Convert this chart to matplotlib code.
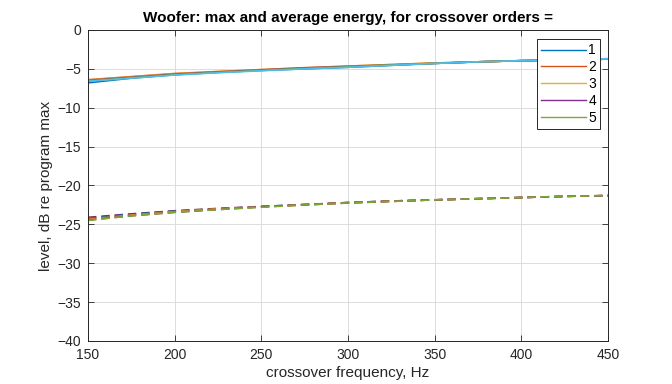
import matplotlib
matplotlib.use("Agg")
import matplotlib.pyplot as plt

# crossover frequencies, Hz
freq = [150, 175, 200, 225, 250, 275, 300, 325, 350, 375, 400, 425, 450]

# max energy per crossover order (solid)
max_1 = [-6.8, -6.2, -5.75, -5.45, -5.2, -5.0, -4.8, -4.55, -4.3, -4.1, -3.95, -3.85, -3.7]
max_2 = [-6.4, -6.0, -5.6, -5.35, -5.1, -4.85, -4.65, -4.45, -4.25, -4.1, -3.95, -3.85, -3.75]
max_3 = [-6.45, -6.05, -5.65, -5.35, -5.1, -4.9, -4.65, -4.45, -4.25, -4.1, -3.95, -3.85, -3.75]
max_4 = [-6.5, -6.1, -5.7, -5.4, -5.15, -4.9, -4.7, -4.5, -4.3, -4.1, -3.95, -3.85, -3.75]
max_5 = [-6.55, -6.15, -5.75, -5.45, -5.2, -4.95, -4.75, -4.5, -4.3, -4.1, -3.95, -3.85, -3.75]
max_6 = [-6.6, -6.2, -5.8, -5.5, -5.25, -5.0, -4.8, -4.55, -4.3, -4.1, -3.95, -3.8, -3.7]

# average energy per crossover order (dashed)
avg_1 = [-24.1, -23.65, -23.25, -22.95, -22.7, -22.45, -22.2, -22.0, -21.85, -21.7, -21.55, -21.4, -21.3]
avg_2 = [-24.2, -23.7, -23.3, -23.0, -22.7, -22.45, -22.2, -22.0, -21.85, -21.7, -21.55, -21.4, -21.3]
avg_3 = [-24.3, -23.8, -23.35, -23.0, -22.75, -22.45, -22.2, -22.0, -21.85, -21.7, -21.55, -21.4, -21.3]
avg_4 = [-24.4, -23.85, -23.4, -23.05, -22.75, -22.5, -22.25, -22.05, -21.85, -21.7, -21.55, -21.4, -21.3]
avg_5 = [-24.45, -23.9, -23.45, -23.1, -22.75, -22.5, -22.25, -22.05, -21.85, -21.7, -21.55, -21.4, -21.3]
avg_6 = [-24.5, -23.9, -23.45, -23.1, -22.8, -22.5, -22.25, -22.05, -21.85, -21.7, -21.55, -21.4, -21.3]

order_labels = ["1", "2", "3", "4", "5"]

MATLAB = ["#0072BD", "#D95319", "#EDB120", "#7E2F8E", "#77AC30", "#4DBEEE", "#A2142F"]

plt.rcParams["font.family"] = ["Liberation Sans", "DejaVu Sans"]

fig = plt.figure(figsize=(6.72, 3.84), dpi=100)
ax = fig.add_axes([0.131, 0.112, 0.774, 0.810])

solid = [max_1, max_2, max_3, max_4, max_5, max_6]
dashed = [avg_1, avg_2, avg_3, avg_4, avg_5, avg_6]
handles = []
for i, ys in enumerate(solid):
    h, = ax.plot(freq, ys, color=MATLAB[i % 7], lw=1.2)
    handles.append(h)
for i, ys in enumerate(dashed):
    ax.plot(freq, ys, color=MATLAB[(i + 6) % 7], lw=1.2, ls=(0, (5, 3)))

ax.set_xlim(150, 450)
ax.set_ylim(-40, 0)
ax.set_xticks(range(150, 451, 50))
ax.set_yticks(range(-40, 1, 5))
ax.grid(True, color="#dcdcdc", lw=0.7)
ax.set_axisbelow(True)
ax.tick_params(direction="in", top=True, right=True, length=4, width=0.6,
               labelsize=10, colors="#262626", pad=5)
for s in ax.spines.values():
    s.set_color("#262626")
    s.set_linewidth(0.7)

ax.set_xlabel("crossover frequency, Hz", fontsize=11, color="#262626", labelpad=3)
ax.set_ylabel("level, dB re program max", fontsize=11, color="#262626", labelpad=3)
ax.set_title("Woofer: max and average energy, for crossover orders =",
             fontsize=11, fontweight="bold", pad=6)

leg = ax.legend(handles[:5], order_labels, loc="upper right",
                bbox_to_anchor=(0.985, 0.97), fontsize=10,
                fancybox=False, framealpha=1, edgecolor="#262626",
                handlelength=3.2, handletextpad=0.2, borderpad=0.3,
                labelspacing=0.2, borderaxespad=0)
leg.get_frame().set_linewidth(0.7)
for line in leg.get_lines():
    line.set_linewidth(1.0)

fig.savefig("out.png", dpi=100)
